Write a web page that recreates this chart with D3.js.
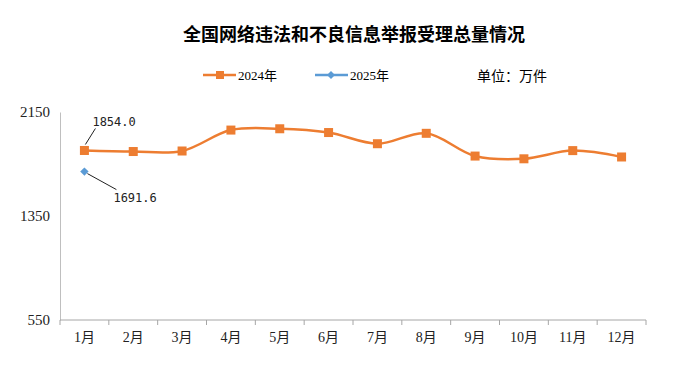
<!DOCTYPE html>
<html>
<head>
	<meta charset="UTF-8">
	<script src="https://d3js.org/d3.v7.min.js"></script>
	<style>
		body{ margin:0; background:#fff; }
	</style>
</head>
<body>
	<script type="text/javascript">
		var months = ["1月","2月","3月","4月","5月","6月","7月","8月","9月","10月","11月","12月"];
		var v2024 = [1854.0, 1846, 1850, 2011, 2021, 1992, 1906, 1986, 1811, 1790, 1853, 1804];
		var v2025 = [1691.6];
		var yTicks = [550, 1350, 2150];

		var w = 673, h = 369;
		var pl = 60, pr = 646, pt = 112, pb = 320;
		var orange = "#ED7D31", blue = "#5B9BD5";

		var svg = d3.select("body").append("svg").attr("width", w).attr("height", h);

		var x = d3.scaleBand().domain(months).range([pl, pr]);
		var y = d3.scaleLinear().domain([550, 2150]).range([pb, pt]);

		//title
		svg.append("text").attr("x", 354).attr("y", 41).attr("text-anchor", "middle")
			.style("font-family", "'Noto Sans CJK SC'").style("font-weight", "bold").style("font-size", "18px")
			.text("全国网络违法和不良信息举报受理总量情况");

		//legend
		var lg = svg.append("g").style("font-family", "'Liberation Serif','Noto Sans CJK SC'").style("font-size", "13px");
		lg.append("line").attr("x1", 203).attr("x2", 236).attr("y1", 75).attr("y2", 75).attr("stroke", orange).attr("stroke-width", 2.5);
		lg.append("rect").attr("x", 216).attr("y", 71).attr("width", 8).attr("height", 8).attr("fill", orange);
		lg.append("text").attr("x", 238).attr("y", 80).text("2024年");
		lg.append("line").attr("x1", 315).attr("x2", 348).attr("y1", 75).attr("y2", 75).attr("stroke", blue).attr("stroke-width", 2.5);
		lg.append("path").attr("d", d3.symbol().type(d3.symbolDiamond2).size(40)).attr("transform", "translate(331,75)").attr("fill", blue);
		lg.append("text").attr("x", 350).attr("y", 80).text("2025年");
		svg.append("text").attr("x", 477).attr("y", 81).style("font-family", "'Noto Sans CJK SC'").style("font-size", "14px").text("单位：万件");

		//axes
		var yAxis = d3.axisLeft(y).tickValues(yTicks).tickFormat(d3.format("d")).tickSize(0).tickPadding(10);
		var gy = svg.append("g").attr("transform", "translate(" + pl + ",0)").call(yAxis);
		gy.select(".domain").attr("stroke", "#bfbfbf");
		gy.selectAll("text").style("font-family", "'Liberation Serif'").style("font-size", "15px").attr("fill", "#222");

		var gx = svg.append("g").attr("transform", "translate(0," + pb + ")");
		gx.append("line").attr("x1", pl).attr("x2", pr).attr("stroke", "#a6a6a6");
		gx.selectAll("line.tk").data(months.concat(["end"])).enter().append("line").attr("class", "tk")
			.attr("x1", function(d, i){ return pl + i * x.bandwidth(); })
			.attr("x2", function(d, i){ return pl + i * x.bandwidth(); })
			.attr("y1", 0).attr("y2", 5).attr("stroke", "#a6a6a6");
		gx.selectAll("text").data(months).enter().append("text")
			.attr("x", function(d){ return x(d) + x.bandwidth() / 2; }).attr("y", 22).attr("text-anchor", "middle")
			.style("font-family", "'Liberation Serif','Noto Sans CJK SC'").style("font-size", "14px").attr("fill", "#222")
			.text(function(d){ return d; });

		var cx = function(d, i){ return x(months[i]) + x.bandwidth() / 2; };

		//2024 line
		var line = d3.line().x(cx).y(function(d){ return y(d); }).curve(d3.curveCatmullRom.alpha(0.5));
		svg.append("path").attr("d", line(v2024)).attr("fill", "none").attr("stroke", orange).attr("stroke-width", 2.5);
		svg.selectAll("rect.m").data(v2024).enter().append("rect").attr("class", "m")
			.attr("x", function(d, i){ return cx(d, i) - 4.5; }).attr("y", function(d){ return y(d) - 4.5; })
			.attr("width", 9).attr("height", 9).attr("fill", orange);

		//2025
		svg.selectAll("path.d").data(v2025).enter().append("path").attr("class", "d")
			.attr("d", d3.symbol().type(d3.symbolDiamond2).size(45))
			.attr("transform", function(d, i){ return "translate(" + cx(d, i) + "," + y(d) + ")"; })
			.attr("fill", blue);

		//labels
		var x0 = cx(0, 0);
		svg.append("line").attr("x1", x0 + 1).attr("y1", y(v2024[0]) - 6).attr("x2", x0 + 11).attr("y2", y(v2024[0]) - 22).attr("stroke", "#222");
		svg.append("text").attr("x", x0 + 8).attr("y", y(v2024[0]) - 24)
			.style("font-family", "'DejaVu Sans Mono'").style("font-size", "12px").attr("fill", "#222").text(v2024[0].toFixed(1));
		svg.append("line").attr("x1", x0 + 3).attr("y1", y(v2025[0]) + 2).attr("x2", x0 + 32).attr("y2", y(v2025[0]) + 18).attr("stroke", "#222");
		svg.append("text").attr("x", x0 + 29).attr("y", y(v2025[0]) + 30)
			.style("font-family", "'DejaVu Sans Mono'").style("font-size", "12px").attr("fill", "#222").text(v2025[0].toFixed(1));
	</script>
</body>
</html>
